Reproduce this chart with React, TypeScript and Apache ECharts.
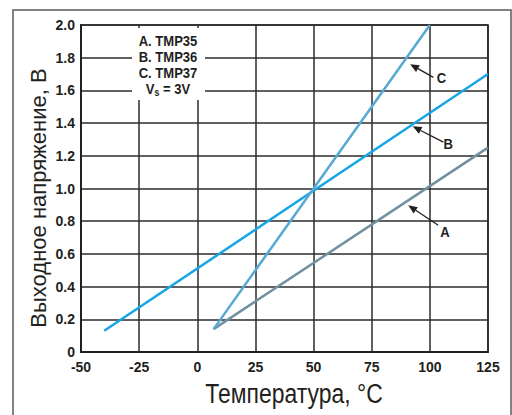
import React, { useEffect, useRef } from "react";
import * as echarts from "echarts";

// Data
const tempA = [7, 125];
const voltA = [0.14, 1.25];
const tempB = [-40, 125];
const voltB = [0.13, 1.7];
const tempC = [7, 100];
const voltC = [0.14, 2.0];

const xTicks = { min: -50, max: 125, interval: 25 };
const yTicks = { min: 0, max: 2, interval: 0.2 };

const legendLines = ["A. TMP35", "B. TMP36", "C. TMP37"];

// annotation anchors in data coordinates: [tipX, tipY, tailX, tailY, labelX, labelY]
const annLabels = ["C", "B", "A"];
const annPoints = [
  [91.5, 1.76, 101.5, 1.68, 105.0, 1.678],
  [92.6, 1.38, 105.8, 1.284, 107.9, 1.274],
  [90.7, 0.897, 103.6, 0.775, 106.5, 0.734],
];

const FONT = "'Liberation Sans', Arial, Helvetica, sans-serif";

export default function App() {
  const ref = useRef<HTMLDivElement>(null);
  useEffect(() => {
    if (!ref.current) return;
    const chart = echarts.init(ref.current, null, { renderer: "svg" });
    const toPairs = (xs: number[], ys: number[]) => xs.map((x, i) => [x, ys[i]]);
    chart.setOption({
      animation: false,
      backgroundColor: "#ffffff",
      grid: {
        left: 81,
        top: 25,
        width: 407,
        height: 327,
        show: true,
        borderColor: "#231f20",
        borderWidth: 1.6,
        backgroundColor: "transparent",
      },
      xAxis: {
        type: "value",
        min: xTicks.min,
        max: xTicks.max,
        interval: xTicks.interval,
        axisLine: { show: true, onZero: false, lineStyle: { color: "#231f20", width: 2 } },
        axisTick: { show: false },
        splitLine: { show: true, lineStyle: { color: "#2b2b2b", width: 1.5 } },
        axisLabel: {
          color: "#231f20",
          fontFamily: FONT,
          fontWeight: "bold",
          fontSize: 14,
          margin: 8,
          formatter: (v: number) => String(v),
        },
      },
      yAxis: {
        type: "value",
        min: yTicks.min,
        max: yTicks.max,
        interval: yTicks.interval,
        axisLine: { show: true, onZero: false, lineStyle: { color: "#231f20", width: 2 } },
        axisTick: { show: false },
        splitLine: { show: true, lineStyle: { color: "#2b2b2b", width: 1.5 } },
        axisLabel: {
          color: "#231f20",
          fontFamily: FONT,
          fontWeight: "bold",
          fontSize: 14,
          margin: 6,
          formatter: (v: number) => (v === 0 ? "0" : v.toFixed(1)),
        },
      },
      series: [
        {
          type: "line",
          data: toPairs(tempA, voltA),
          symbol: "none",
          lineStyle: { color: "#71909f", width: 2.5 },
          z: 3,
        },
        {
          type: "line",
          data: toPairs(tempB, voltB),
          symbol: "none",
          lineStyle: { color: "#16a6e3", width: 2.5 },
          z: 3,
        },
        {
          type: "line",
          data: toPairs(tempC, voltC),
          symbol: "none",
          lineStyle: { color: "#55a9d3", width: 2.5 },
          z: 3,
        },
      ],
    });

    const graphics: any[] = [];
    // outer frame
    graphics.push({
      type: "rect",
      shape: { x: 13, y: 10, width: 498, height: 420 },
      style: { fill: "none", stroke: "#5a5a5a", lineWidth: 1.5 },
      z: 1,
    });
    // legend box
    graphics.push({
      type: "rect",
      shape: { x: 132, y: 28, width: 73, height: 72 },
      style: { fill: "#ffffff" },
      z: 20,
    });
    const lg = legendLines.map((t) => `{b|${t}}`).join("\n") + "\n{b|V}{s|s}{b| = 3V}";
    graphics.push({
      type: "text",
      x: 168,
      y: 65,
      scaleX: 0.87,
      style: {
        text: lg,
        rich: {
          b: { fontFamily: FONT, fontWeight: "bold", fontSize: 15, fill: "#231f20", lineHeight: 16 },
          s: { fontFamily: FONT, fontWeight: "bold", fontSize: 10, fill: "#231f20", lineHeight: 16, padding: [7, 0, 0, 0] },
        },
        align: "center",
        verticalAlign: "middle",
      },
      z: 21,
    });
    // axis names
    graphics.push({
      type: "text",
      x: 294,
      y: 393,
      scaleX: 0.85,
      style: {
        text: "Температура, °C",
        fontFamily: FONT,
        fontSize: 27,
        fill: "#231f20",
        align: "center",
        verticalAlign: "middle",
      },
      z: 21,
    });
    graphics.push({
      type: "text",
      x: 38,
      y: 198,
      rotation: Math.PI / 2,
      style: {
        text: "Выходное напряжение, В",
        fontFamily: FONT,
        fontSize: 22,
        fill: "#231f20",
        align: "center",
        verticalAlign: "middle",
      },
      z: 21,
    });
    // annotations
    annPoints.forEach((p, i) => {
      const tip = chart.convertToPixel({ gridIndex: 0 }, [p[0], p[1]]) as number[];
      const tail = chart.convertToPixel({ gridIndex: 0 }, [p[2], p[3]]) as number[];
      const lab = chart.convertToPixel({ gridIndex: 0 }, [p[4], p[5]]) as number[];
      const dx = tip[0] - tail[0];
      const dy = tip[1] - tail[1];
      const len = Math.sqrt(dx * dx + dy * dy);
      const ux = dx / len;
      const uy = dy / len;
      const hl = 9;
      const hw = 3.8;
      const bx = tip[0] - ux * hl;
      const by = tip[1] - uy * hl;
      graphics.push({
        type: "line",
        shape: { x1: tail[0], y1: tail[1], x2: bx, y2: by },
        style: { stroke: "#231f20", lineWidth: 1.3 },
        z: 22,
      });
      graphics.push({
        type: "polygon",
        shape: {
          points: [
            [tip[0], tip[1]],
            [bx - uy * hw, by + ux * hw],
            [bx + uy * hw, by - ux * hw],
          ],
        },
        style: { fill: "#231f20" },
        z: 22,
      });
      graphics.push({
        type: "text",
        x: lab[0],
        y: lab[1],
        scaleX: 0.87,
        style: {
          text: annLabels[i],
          fontFamily: FONT,
          fontWeight: "bold",
          fontSize: 15,
          fill: "#231f20",
          align: "center",
          verticalAlign: "middle",
        },
        z: 22,
      });
    });
    chart.setOption({ graphic: graphics });
    return () => chart.dispose();
  }, []);
  return (
    <div
      ref={ref}
      style={{ position: "fixed", left: 0, top: 0, width: 512, height: 415, background: "#fff" }}
    />
  );
}
